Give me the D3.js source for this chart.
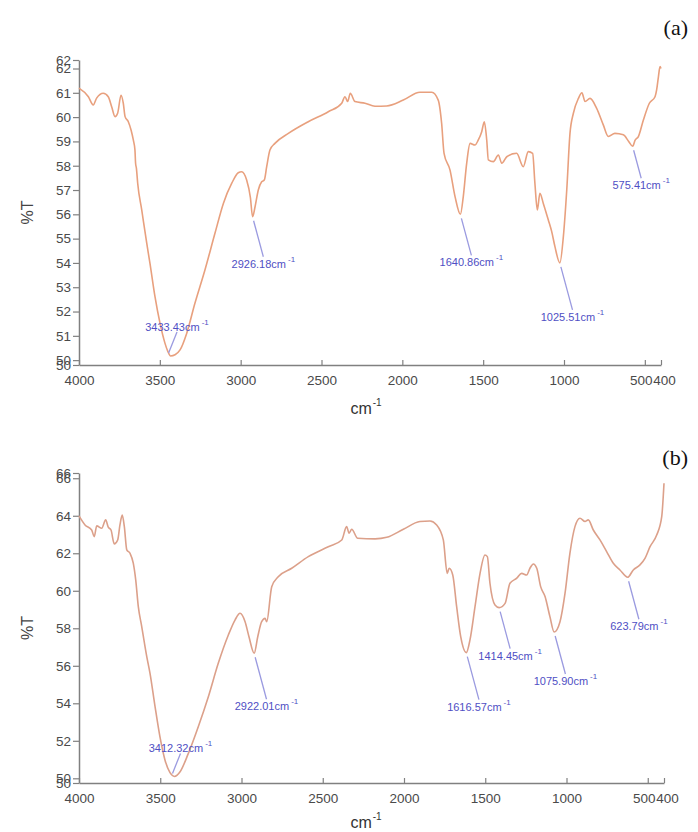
<!DOCTYPE html>
<html>
<head>
<meta charset="utf-8">
<script src="https://cdn.jsdelivr.net/npm/d3@7"></script>
<style>
  body { margin: 0; background: #fff; }
  svg { display: block; }
</style>
</head>
<body>
<div id="chart"></div>
<script>
// ---- data ----
// panel (a)
const wnA = [4000, 3942, 3912, 3891, 3850, 3819, 3798, 3777, 3761, 3740, 3726, 3715, 3695, 3678, 3664, 3654, 3650, 3645,
  3637, 3612, 3581, 3561, 3530, 3499, 3468, 3450, 3433.43, 3406, 3375, 3334, 3283, 3221, 3159, 3107, 3055, 3015, 2994,
  2963, 2940, 2926.18, 2911, 2891, 2870, 2854, 2839, 2819, 2788, 2705, 2582, 2458, 2375, 2355, 2338, 2322, 2293, 2231,
  2169, 2097, 1994, 1891, 1818, 1778, 1757, 1742, 1705, 1674, 1640.86, 1623, 1602, 1581, 1551, 1530, 1509, 1493, 1478,
  1468, 1437, 1406, 1385, 1354, 1293, 1252, 1221, 1194, 1180, 1165, 1149, 1128, 1097, 1076, 1056, 1025.51, 1004, 983,
  963, 942, 911, 889, 870, 839, 798, 757, 726, 685, 633, 600, 575.41, 560, 540, 509, 472, 437, 427, 416, 406, 400];
const tA = [61.19, 60.84, 60.5, 60.78, 60.98, 60.84, 60.43, 60.02, 60.16, 60.9, 60.57, 60.02, 59.81, 59.47, 59.06, 58.65, 58.1, 57.9,
  57.28, 56.18, 54.81, 53.98, 52.61, 51.52, 50.69, 50.35, 50.17, 50.22, 50.42, 51.1, 52.34, 53.71, 55.22, 56.45, 57.28, 57.71, 57.75,
  57.41, 56.7, 55.9, 56.31, 57.0, 57.34, 57.41, 57.96, 58.65, 58.92, 59.33, 59.81, 60.22, 60.57, 60.84, 60.64, 60.98, 60.64, 60.57,
  60.45, 60.46, 60.7, 61.02, 61.02, 60.7, 59.75, 58.51, 57.82, 56.73, 56.0, 56.73, 58.1, 58.92, 58.85, 59.06, 59.4, 59.81, 59.06,
  58.24, 58.17, 58.44, 58.1, 58.37, 58.51, 57.96, 58.58, 58.51, 57.28, 56.18, 56.87, 56.45, 55.77, 55.29, 54.67, 54.0, 55.08, 57.0,
  59.33, 60.16, 60.77, 61.0, 60.64, 60.77, 60.36, 59.68, 59.2, 59.33, 59.27, 59.0, 58.8, 59.05, 59.2, 59.88, 60.57, 60.84, 61.12, 61.66, 62.08, 62.0];
const peaksA = [3433.43, 2926.18, 1640.86, 1025.51, 575.41];

// panel (b)
const wnB = [4000, 3963, 3922, 3906, 3891, 3860, 3836, 3820, 3803, 3783, 3762, 3748, 3734, 3721, 3706, 3686, 3666, 3651,
  3635, 3614, 3583, 3563, 3532, 3502, 3471, 3440, 3412.32, 3378, 3327, 3266, 3204, 3143, 3081, 3040, 3009, 2978, 2954,
  2922.01, 2900, 2876, 2855, 2845, 2814, 2774, 2691, 2589, 2466, 2383, 2353, 2338, 2322, 2285, 2178, 2106, 2004, 1902,
  1840, 1799, 1758, 1734, 1722, 1700, 1676, 1651, 1616.57, 1594, 1563, 1532, 1502, 1487, 1471, 1440, 1414.45, 1378, 1348,
  1306, 1276, 1245, 1225, 1204, 1183, 1159, 1132, 1102, 1075.90, 1040, 1009, 979, 948, 917, 886, 866, 835, 794, 753, 712,
  671, 623.79, 589, 548, 517, 486, 445, 414, 400];
const tB = [63.99, 63.51, 63.24, 62.89, 63.46, 63.33, 63.78, 63.39, 63.24, 62.5, 62.71, 63.51, 64.04, 63.42, 62.18, 62.0, 61.47, 60.58,
  59.15, 58.09, 56.49, 55.6, 53.82, 52.22, 50.98, 50.3, 50.1, 50.35, 51.33, 52.75, 54.35, 56.13, 57.64, 58.44, 58.8, 58.35, 57.55,
  56.67, 57.55, 58.35, 58.53, 58.35, 60.22, 60.75, 61.2, 61.82, 62.35, 62.71, 63.42, 63.07, 63.28, 62.8, 62.77, 62.85, 63.28, 63.69,
  63.72, 63.51, 62.71, 60.93, 61.2, 60.84, 59.15, 57.55, 56.7, 57.38, 59.15, 60.93, 61.91, 61.82, 60.4, 59.24, 59.1, 59.33, 60.4,
  60.67, 60.93, 60.84, 61.2, 61.43, 61.2, 60.22, 59.69, 58.62, 57.8, 58.35, 59.87, 62.0, 63.42, 63.87, 63.69, 63.78, 63.24, 62.71, 62.09, 61.47,
  61.11, 60.72, 61.11, 61.38, 61.73, 62.35, 62.97, 63.95, 65.73];
const peaksB = [3412.32, 2922.01, 1616.57, 1414.45, 1075.90, 623.79];

// axis ticks
const xTicks = [4000, 3500, 3000, 2500, 2000, 1500, 1000, 500, 400];
const yTicksA = [49.8, 50, 51, 52, 53, 54, 55, 56, 57, 58, 59, 60, 61, 62, 62.35];
const yTicksB = [49.75, 50, 52, 54, 56, 58, 60, 62, 64, 66, 66.28];

// layout of the peak leader lines (vertical length, negative = label above)
const leadA = [-21, 36, 37, 43, 28];
const leadB = [-20, 42, 43, 37, 38, 38];

const W = 698, H = 832;
const svg = d3.select("#chart").append("svg")
  .attr("width", W).attr("height", H)
  .style("font-family", "'Liberation Sans', Arial, sans-serif");

svg.append("rect").attr("width", W).attr("height", H).attr("fill", "#fff");

function panel(o) {
  const x = d3.scaleLinear().domain([4000, 400]).range([o.left, o.right]);
  const y = d3.scaleLinear().domain([o.yTicks[0], o.yTicks[o.yTicks.length - 1]]).range([o.bottom, o.top]);
  const g = svg.append("g");

  // x axis, ticks pointing up
  const xa = g.append("g")
    .attr("transform", "translate(0," + o.bottom + ")")
    .call(d3.axisBottom(x).tickValues(xTicks).tickFormat(d3.format("d"))
      .tickSizeInner(-5).tickSizeOuter(0).tickPadding(10));
  // keep "500" and "400" from running into each other
  xa.selectAll(".tick text").attr("dx", d => d === 500 ? -4 : d === 400 ? 3 : 0);

  // y axis
  const ya = g.append("g")
    .attr("transform", "translate(" + o.left + ",0)")
    .call(d3.axisLeft(y).tickValues(o.yTicks).tickFormat(d3.format(".0f"))
      .tickSizeInner(6).tickSizeOuter(0).tickPadding(2));

  [xa, ya].forEach(a => {
    a.select(".domain").attr("stroke", "#808080").attr("stroke-width", 1.5);
    a.selectAll(".tick line").attr("stroke", "#808080").attr("stroke-width", 1.2);
    a.selectAll(".tick text").attr("fill", "#4a4a4a").style("font-size", "13.5px");
  });

  // spectrum
  const pts = o.wn.map((w, i) => [w, o.t[i]]);
  g.append("path")
    .datum(pts)
    .attr("fill", "none")
    .attr("stroke", o.color)
    .attr("stroke-width", 1.6)
    .attr("stroke-linejoin", "round")
    .attr("d", d3.line().x(d => x(d[0])).y(d => y(d[1])).curve(d3.curveMonotoneX));

  // peak labels
  o.peaks.forEach((p, i) => {
    const tv = o.t[o.wn.indexOf(p)];
    const px = x(p), py = y(tv);
    const len = o.lead[i];
    const up = len < 0;
    const x0 = up ? px - 2 : px + 1;
    const y0 = up ? py - 3 : py + 4;
    const x1 = x0 + Math.abs(len) * (up ? 0.4 : 0.27);
    const y1 = y0 + len;
    g.append("line")
      .attr("x1", x0).attr("y1", y0).attr("x2", x1).attr("y2", y1)
      .attr("stroke", "#9a9ae0").attr("stroke-width", 1.3);
    const txt = g.append("text")
      .attr("x", x1).attr("y", up ? y1 - 1 : y1 + 11)
      .attr("text-anchor", "middle")
      .attr("fill", "#4f4fc4")
      .style("font-size", "11px");
    txt.append("tspan").text(d3.format(".2f")(p) + "cm");
    txt.append("tspan").attr("dx", 2).attr("dy", -6).style("font-size", "8px").text("-1");
  });

  // axis titles
  g.append("text")
    .attr("transform", "translate(33," + ((o.top + o.bottom) / 2) + ") rotate(-90)")
    .attr("text-anchor", "middle")
    .attr("fill", "#444").style("font-size", "16px")
    .text("%T");
  const xt = g.append("text")
    .attr("x", 366).attr("y", o.bottom + o.titleGap)
    .attr("text-anchor", "middle")
    .attr("fill", "#333").style("font-size", "16px");
  xt.append("tspan").text("cm");
  xt.append("tspan").attr("dx", 1).attr("dy", -8).style("font-size", "10px").text("-1");

  // panel letter
  g.append("text")
    .attr("x", 688).attr("y", o.letterY)
    .attr("text-anchor", "end")
    .style("font-family", "'Liberation Serif', 'Times New Roman', serif")
    .style("font-size", "22px")
    .attr("fill", "#111")
    .text(o.letter);
}

panel({ wn: wnA, t: tA, peaks: peaksA, lead: leadA, yTicks: yTicksA,
  left: 79, right: 661, top: 60, bottom: 365, color: "#e8a07e", letter: "(a)", letterY: 35, titleGap: 49 });
panel({ wn: wnB, t: tB, peaks: peaksB, lead: leadB, yTicks: yTicksB,
  left: 79, right: 664, top: 473, bottom: 783, color: "#dca08a", letter: "(b)", letterY: 465, titleGap: 45 });
</script>
</body>
</html>
